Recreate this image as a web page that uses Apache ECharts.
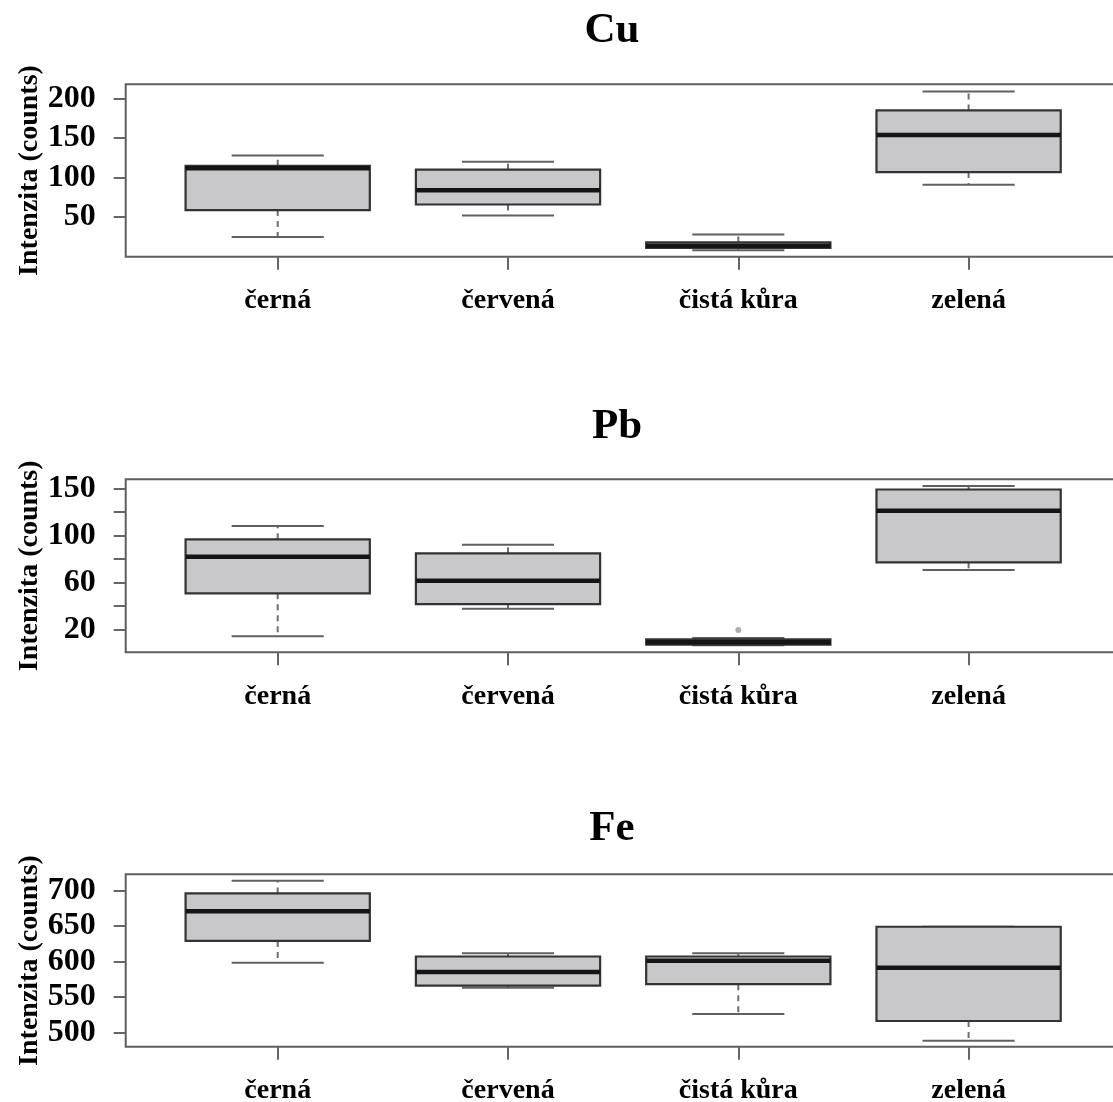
<!DOCTYPE html>
<html><head><meta charset="utf-8">
<script src="https://cdn.jsdelivr.net/npm/echarts@6/dist/echarts.min.js"></script>
<style>html,body{margin:0;padding:0;background:#fff}#c{width:1113px;height:1102px}</style>
</head><body><div id="c"></div>
<script>
// ---- data ----
const categories = ['černá', 'červená', 'čistá kůra', 'zelená'];
const catPositions = [1, 2, 3, 4];

// Cu
const cuLow  = [25, 52, 8, 91];
const cuQ1   = [59, 66, 11, 107];
const cuMed  = [112, 84, 14, 154];
const cuQ3   = [115, 110, 18, 185];
const cuHigh = [128, 120, 28, 209];
const cuTicks = [50, 100, 150, 200];
const cuTickLabels = ['50', '100', '150', '200'];

// Pb
const pbLow  = [14, 37.5, 6.5, 70.5];
const pbQ1   = [50.6, 41.5, 7, 77];
const pbMed  = [81.8, 61.4, 9, 121];
const pbQ3   = [96.6, 84.7, 11.5, 139];
const pbHigh = [108, 92, 12.5, 142];
const pbOutliers = [[3, 19.4]];
const pbTicks = [20, 40, 60, 80, 100, 120, 140];
const pbLabelTicks = [20, 60, 100, 140];
const pbTickLabels = ['20', '60', '100', '150'];

// Fe
const feLow  = [598, 563, 526, 488];
const feQ1   = [629, 566, 568, 516];
const feMed  = [671, 585, 601, 591];
const feQ3   = [696, 607, 607, 649];
const feHigh = [714, 611.5, 611.5, 649];
const feTicks = [500, 550, 600, 650, 700];
const feTickLabels = ['500', '550', '600', '650', '700'];

const titles = ['Cu', 'Pb', 'Fe'];
const yName = 'Intenzita (counts)';

// ---- build ----
const SERIF = '"Liberation Serif", "Times New Roman", serif';
function rows(lo, q1, md, q3, hi) {
  return catPositions.map((p, i) => [p, lo[i], q1[i], md[i], q3[i], hi[i]]);
}
const panels = [
  { data: rows(cuLow, cuQ1, cuMed, cuQ3, cuHigh), ticks: cuTicks, labelTicks: cuTicks, labels: cuTickLabels,
    min: 0, max: 218, top: 84.3, height: 172.4, titleY: 31, titleX: 612 },
  { data: rows(pbLow, pbQ1, pbMed, pbQ3, pbHigh), ticks: pbTicks, labelTicks: pbLabelTicks, labels: pbTickLabels,
    min: 0.4, max: 147.7, top: 479.3, height: 173, titleY: 427, titleX: 617 },
  { data: rows(feLow, feQ1, feMed, feQ3, feHigh), ticks: feTicks, labelTicks: feTicks, labels: feTickLabels,
    min: 479.7, max: 723, top: 874.3, height: 172.4, titleY: 829, titleX: 612 }
];

function renderBox(params, api) {
  const x = api.value(0);
  const p = [1, 2, 3, 4, 5].map(d => api.coord([x, api.value(d)]));
  const cx = p[0][0];
  const bw = api.size([0.8, 0])[0];
  const cw = bw / 2;
  const yLow = p[0][1], yQ1 = p[1][1], yMed = p[2][1], yQ3 = p[3][1], yHigh = p[4][1];
  const wStyle = { stroke: '#6e6e6e', lineWidth: 2, lineDash: [6, 5] };
  const cStyle = { stroke: '#606060', lineWidth: 2 };
  return {
    type: 'group',
    children: [
      { type: 'line', shape: { x1: cx, y1: yQ1, x2: cx, y2: yLow }, style: wStyle },
      { type: 'line', shape: { x1: cx, y1: yQ3, x2: cx, y2: yHigh }, style: wStyle },
      { type: 'line', shape: { x1: cx - cw / 2, y1: yLow, x2: cx + cw / 2, y2: yLow }, style: cStyle },
      { type: 'line', shape: { x1: cx - cw / 2, y1: yHigh, x2: cx + cw / 2, y2: yHigh }, style: cStyle },
      { type: 'rect', shape: { x: cx - bw / 2, y: yQ3, width: bw, height: yQ1 - yQ3 },
        style: { fill: '#c8c8ca', stroke: '#333', lineWidth: 2.2 } },
      { type: 'line', shape: { x1: cx - bw / 2, y1: yMed, x2: cx + bw / 2, y2: yMed },
        style: { stroke: '#151515', lineWidth: 4.5 } }
    ]
  };
}

const option = {
  backgroundColor: '#fff',
  animation: false,
  grid: panels.map(p => ({
    left: 125.7, right: -7.6, top: p.top, height: p.height,
    show: true, borderColor: '#5e5e5e', borderWidth: 2, backgroundColor: 'transparent',
    containLabel: false, outerBoundsMode: 'none'
  })),
  xAxis: panels.map((p, i) => ({
    type: 'value', gridIndex: i, min: 0.34, max: 4.66,
    splitLine: { show: false }, axisLine: { show: false },
    axisTick: { show: true, customValues: catPositions, length: 13, lineStyle: { color: '#666', width: 2 } },
    axisLabel: {
      customValues: catPositions,
      formatter: v => categories[Math.round(v) - 1] || '',
      margin: 30, fontFamily: SERIF, fontWeight: 'bold', fontSize: 28, color: '#000'
    }
  })),
  yAxis: panels.map((p, i) => ({
    type: 'value', gridIndex: i, min: p.min, max: p.max,
    splitLine: { show: false }, axisLine: { show: false },
    axisTick: { show: true, customValues: p.ticks, length: 12, lineStyle: { color: '#666', width: 2 } },
    axisLabel: {
      customValues: p.labelTicks,
      formatter: v => { const k = p.labelTicks.indexOf(Math.round(v)); return k >= 0 ? p.labels[k] : ''; },
      margin: 30, fontFamily: SERIF, fontWeight: 'bold', fontSize: 32, color: '#000'
    },
    name: yName, nameLocation: 'middle', nameGap: 82, nameRotate: 90, nameMoveOverlap: false,
    nameTextStyle: { fontFamily: SERIF, fontWeight: 'bold', fontSize: 28, color: '#000' }
  })),
  graphic: panels.map((p, i) => ({
    type: 'text', x: p.titleX, y: p.titleY,
    style: { text: titles[i], font: 'bold 43px ' + SERIF, fill: '#000', textAlign: 'center', textVerticalAlign: 'middle' }
  })),
  series: panels.map((p, i) => ({
    type: 'custom', xAxisIndex: i, yAxisIndex: i, renderItem: renderBox,
    encode: { x: 0, y: [1, 2, 3, 4, 5] }, data: p.data, clip: false
  })).concat([{
    type: 'scatter', xAxisIndex: 1, yAxisIndex: 1, data: pbOutliers,
    symbol: 'circle', symbolSize: 6, itemStyle: { color: '#9a9a9a' }
  }])
};

const chart = echarts.init(document.getElementById('c'), null, { renderer: 'canvas' });
chart.setOption(option);
</script>
</body></html>
